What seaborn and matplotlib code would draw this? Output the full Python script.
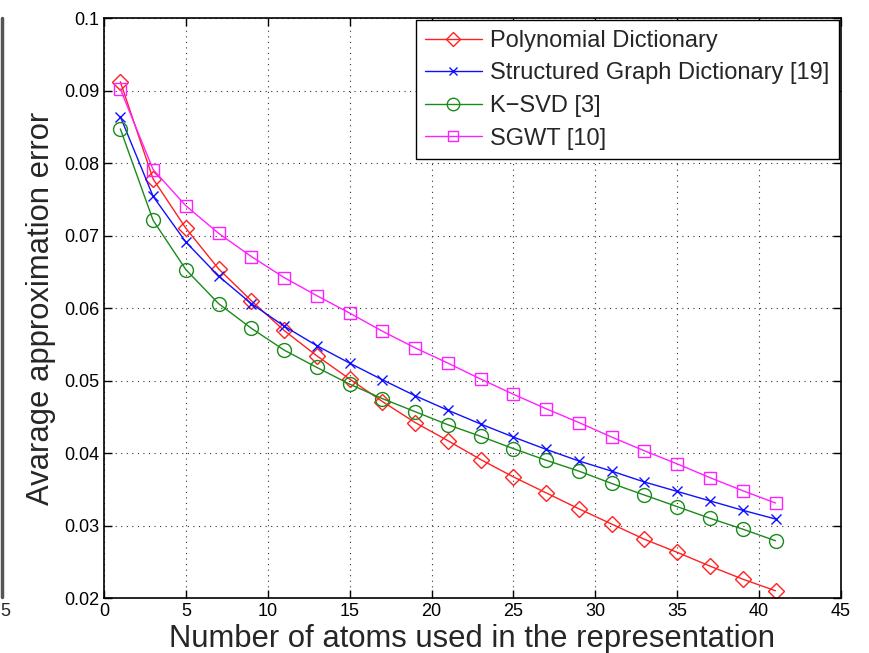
import matplotlib
matplotlib.use("Agg")
import matplotlib.pyplot as plt
import seaborn as sns
import pandas as pd
from matplotlib.lines import Line2D

sns.set_theme(style="white")
plt.rcParams["font.family"] = ["Liberation Sans", "DejaVu Sans"]

atoms = list(range(1, 42, 2))

polynomial = [0.0912, 0.0778, 0.0710, 0.0654, 0.0610, 0.0569, 0.0534, 0.0502, 0.0471,
              0.0442, 0.0417, 0.0391, 0.0367, 0.0345, 0.0323, 0.0302, 0.0281, 0.0263,
              0.0244, 0.0226, 0.0210]
structured = [0.0864, 0.0754, 0.0691, 0.0644, 0.0606, 0.0575, 0.0548, 0.0524, 0.0501,
              0.0479, 0.0459, 0.0440, 0.0422, 0.0405, 0.0389, 0.0375, 0.0360, 0.0347,
              0.0334, 0.0321, 0.0309]
ksvd = [0.0847, 0.0721, 0.0653, 0.0606, 0.0572, 0.0542, 0.0518, 0.0495, 0.0475,
        0.0457, 0.0439, 0.0423, 0.0406, 0.0390, 0.0375, 0.0358, 0.0342, 0.0326,
        0.0310, 0.0295, 0.0279]
sgwt = [0.0902, 0.0791, 0.0741, 0.0703, 0.0671, 0.0642, 0.0617, 0.0593, 0.0568,
        0.0545, 0.0524, 0.0502, 0.0481, 0.0461, 0.0442, 0.0422, 0.0403, 0.0385,
        0.0366, 0.0348, 0.0331]

methods = ["Polynomial Dictionary", "Structured Graph Dictionary [19]", "K\u2212SVD [3]", "SGWT [10]"]
series = [polynomial, structured, ksvd, sgwt]
colors = ["#ff2020", "#1010ff", "#1a8a1a", "#ff20ff"]
markers = ["D", "x", "o", "s"]
msizes = [8, 7, 10, 8]

df = pd.DataFrame({
    "atoms": atoms * len(methods),
    "error": sum(series, []),
    "method": sum([[m] * len(atoms) for m in methods], []),
})

fig = plt.figure(figsize=(8.7, 6.53), dpi=100)
ax = fig.add_axes([0.1195, 0.0842, 0.8472, 0.8882])

for m, c, mk, ms in zip(methods, colors, markers, msizes):
    sub = df[df["method"] == m]
    sns.lineplot(data=sub, x="atoms", y="error", ax=ax, color=c, lw=1.0,
                 marker=mk, markersize=ms,
                 markerfacecolor="none", markeredgecolor=c, markeredgewidth=1.0,
                 legend=False)

ax.set_xlim(0, 45)
ax.set_ylim(0.02, 0.1)
ax.set_xticks(range(0, 46, 5))
ax.set_yticks([0.02, 0.03, 0.04, 0.05, 0.06, 0.07, 0.08, 0.09, 0.1])
ax.set_yticklabels(["0.02", "0.03", "0.04", "0.05", "0.06", "0.07", "0.08", "0.09", "0.1"])
ax.grid(True, color="#333333", linestyle=(0, (1, 4)), linewidth=0.8)
ax.tick_params(direction="in", length=6, width=1, top=True, right=True,
               labelsize=13, colors="black", bottom=True, left=True)
for s in ax.spines.values():
    s.set_color("black")
    s.set_linewidth(1.2)

ax.set_xlabel("Number of atoms used in the representation", fontsize=22.3, labelpad=3)
ax.set_ylabel("Avarage approximation error", fontsize=22.3, labelpad=6)

handles = [Line2D([0], [0], color=c, lw=1.0, marker=mk, markersize=ms - 1,
                  markerfacecolor="none", markeredgecolor=c)
           for c, mk, ms in zip(colors, markers, msizes)]
leg = ax.legend(handles, methods, loc="upper right", fontsize=17, frameon=True,
                fancybox=False, edgecolor="black", borderaxespad=0.1,
                handlelength=2.4, handletextpad=0.35, labelspacing=0.45,
                borderpad=0.4, framealpha=1)
leg.get_frame().set_linewidth(1.0)

# thin border strip and stray tick at left edge
fig.add_artist(Line2D([0.002, 0.002], [0.085, 0.972], color="#555555", lw=2.5,
                      transform=fig.transFigure))
fig.text(0.0, 0.063, "5", fontsize=13, ha="left", va="center")

fig.savefig("out.png", dpi=100, facecolor="white")
